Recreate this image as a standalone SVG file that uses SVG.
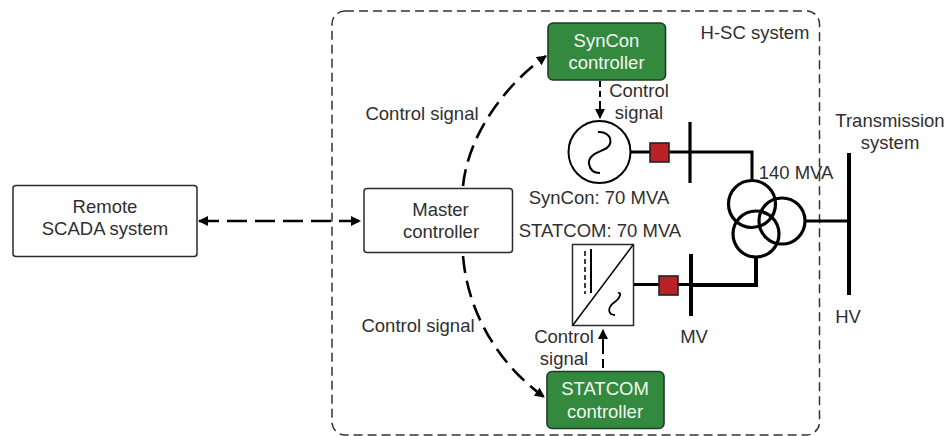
<svg xmlns="http://www.w3.org/2000/svg" width="946" height="436" viewBox="0 0 946 436">
<style>
text{font-family:"Liberation Sans",Arial,sans-serif;font-size:18.500px;fill:#2f2f2f;text-anchor:middle}
text.w{fill:#f2f7f2}
.ctl{fill:#338a3f;stroke:#1c3d22;stroke-width:1.6}
.box{fill:#fff;stroke:#2b2b2b;stroke-width:1.5}
.sw{fill:#b92327;stroke:#222;stroke-width:1.6}
.ln{fill:none;stroke:#000;stroke-width:3}
.md{fill:none;stroke:#000;stroke-width:3.200}
.th{fill:none;stroke:#000;stroke-width:4}
.sig{fill:none;stroke:#000;stroke-width:2.6;stroke-dasharray:17 8}
.sh{fill:none;stroke:#000;stroke-width:2}
</style>
<defs>
<marker id="a" viewBox="0 0 10 10" refX="9" refY="5" markerWidth="10" markerHeight="10" markerUnits="userSpaceOnUse" orient="auto-start-reverse"><path d="M0 0L10 5L0 10Z" fill="#000"/></marker>
</defs>
<g id="hsc-system">
<rect x="332" y="11" width="487.500" height="424" rx="13" fill="none" stroke="#333" stroke-width="1.500" stroke-dasharray="9 5"/>
<text x="755" y="39">H-SC system</text>
</g>
<g id="connectors">
<path class="sig" style="stroke-dasharray:20 8" d="M199 221H360" marker-start="url(#a)" marker-end="url(#a)"/>
<path class="sig" d="M463 186C468 135 505 85 546 56" marker-end="url(#a)"/>
<path class="sig" d="M463 256C468 315 500 365 544 397" marker-end="url(#a)"/>
<path d="M600 81V118" fill="none" stroke="#000" stroke-width="2" stroke-dasharray="6 4 6 4 20" marker-end="url(#a)"/>
<path d="M603 368V330" fill="none" stroke="#000" stroke-width="2" stroke-dasharray="9 5 24" marker-end="url(#a)"/>
<path class="ln" d="M631 152H752V180"/>
<path class="ln" d="M633 284.500H691"/>
<path class="th" d="M691 285H756V257"/>
<path class="ln" d="M805 221H849"/>
</g>
<g id="remote-scada">
<rect class="box" x="13" y="185.500" width="184" height="71" rx="3"/>
<text x="105" y="213">Remote</text>
<text x="105" y="235">SCADA system</text>
</g>
<g id="master-controller">
<rect class="box" x="364" y="188.500" width="148.500" height="64" rx="3"/>
<text x="440.500" y="216">Master</text>
<text x="441" y="238">controller</text>
</g>
<g id="syncon-controller">
<rect class="ctl" x="548" y="23" width="117.500" height="57" rx="5"/>
<text class="w" x="606.500" y="47">SynCon</text>
<text class="w" x="606.500" y="69">controller</text>
</g>
<g id="statcom-controller">
<rect class="ctl" x="547" y="371.500" width="117" height="57" rx="5"/>
<text class="w" x="605" y="395">STATCOM</text>
<text class="w" x="605" y="418">controller</text>
</g>
<g id="syncon">
<circle cx="599.500" cy="152" r="31" fill="#fff" stroke="#000" stroke-width="2"/>
<path class="sh" d="M598 132C612 131 615 146 603 150C596 153 588 156 589 164C590 170 594 173 600 173"/>
<text x="599" y="204">SynCon: 70 MVA</text>
</g>
<g id="statcom">
<rect x="572.500" y="244.500" width="61" height="81" fill="#fff" stroke="#2b2b2b" stroke-width="1.500"/>
<path d="M573 325L633 245" fill="none" stroke="#000" stroke-width="1.500"/>
<path d="M585 251V294" fill="none" stroke="#000" stroke-width="1.500" stroke-dasharray="5 3"/>
<path d="M591 249V293" fill="none" stroke="#000" stroke-width="2"/>
<path d="M618 293C622 292 620 298 616 301C610 305 607 310 611 314C613 315 614 315 615 315" fill="none" stroke="#000" stroke-width="1.800"/>
<text x="600" y="237">STATCOM: 70 MVA</text>
</g>
<g id="breaker-syncon"><rect class="sw" x="650" y="143" width="19" height="19"/></g>
<g id="breaker-statcom"><rect class="sw" x="659" y="276" width="19" height="19"/></g>
<g id="mv-bus-syncon"><path class="md" d="M690 122V183"/></g>
<g id="mv-bus-statcom">
<path class="th" d="M691 254V316"/>
<text x="694" y="343">MV</text>
</g>
<g id="transformer">
<circle class="md" cx="752" cy="204" r="23.500"/>
<circle class="md" cx="782" cy="221" r="23"/>
<circle class="md" cx="756" cy="234" r="23"/>
<text x="796" y="179">140 MVA</text>
</g>
<g id="hv-bus">
<path class="th" d="M849 153V295"/>
<text x="848" y="323">HV</text>
<text x="890" y="127">Transmission</text>
<text x="890" y="149">system</text>
</g>
<g id="labels">
<text x="422" y="120">Control signal</text>
<text x="418" y="332">Control signal</text>
<text x="639" y="97">Control</text>
<text x="639" y="119">signal</text>
<text x="564" y="343">Control</text>
<text x="564" y="365">signal</text>
</g>
</svg>
